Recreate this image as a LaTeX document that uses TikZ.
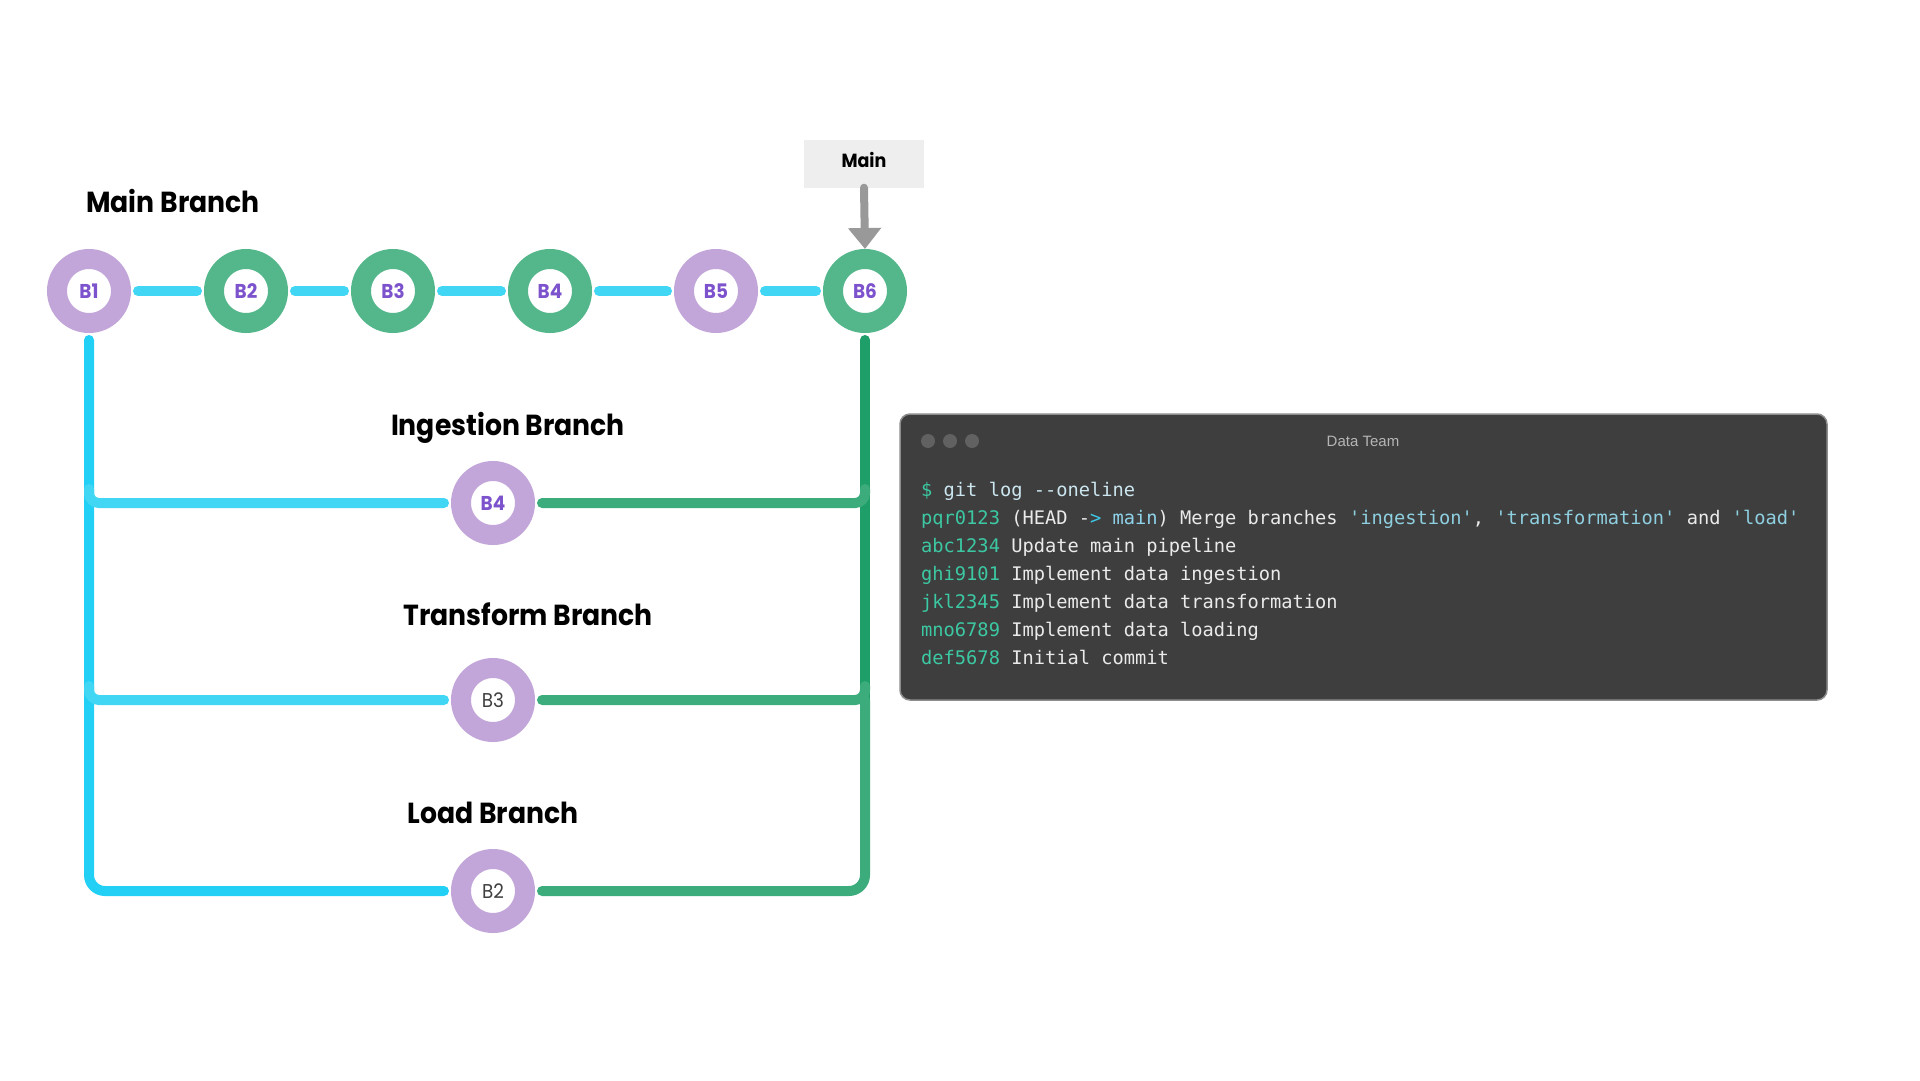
\documentclass[tikz,border=0pt]{standalone}
\usepackage{fontspec}
\setmonofont{DejaVu Sans Mono}
\newfontfamily\geofont[FakeStretch=0.92]{Poppins}
\newfontfamily\uifont{Liberation Sans}
\usetikzlibrary{matrix,positioning,calc,arrows.meta}

\definecolor{ringpurple}{HTML}{C3A6D9}
\definecolor{ringgreen}{HTML}{54B78B}
\definecolor{labelpurple}{HTML}{7C53CC}
\definecolor{trunkcyan}{HTML}{22D0F5}
\definecolor{linecyan}{HTML}{41D7F4}
\definecolor{trunkgreen}{HTML}{1E9E69}
\definecolor{linegreen}{HTML}{3CAC7C}
\definecolor{headgray}{HTML}{999999}
\definecolor{boxgray}{HTML}{EEEEEE}
\definecolor{termbg}{HTML}{3E3E3E}
\definecolor{termrim}{HTML}{8C8C8C}
\definecolor{termdot}{HTML}{616161}
\definecolor{termtitle}{HTML}{B5B5B5}
\definecolor{loghash}{HTML}{3CC8A2}
\definecolor{logtext}{HTML}{EAEAEA}
\definecolor{logcmd}{HTML}{CBE6EF}
\definecolor{logref}{HTML}{8FD3EB}
\definecolor{logstr}{HTML}{8ECFE0}
\definecolor{logarrow}{HTML}{3FC9E8}

\newcommand{\hashc}[1]{\textcolor{loghash}{#1}}
\newcommand{\strc}[1]{\textcolor{logstr}{#1}}

\begin{document}
\begin{tikzpicture}[
    x=1pt, y=-1pt,
    % define styles
    commit/.style={
        circle, minimum size=64pt, inner sep=0pt, outer sep=10pt,
        line width=20pt, fill=white, text=labelpurple,
        font=\geofont\bfseries\fontsize{20}{20}\selectfont
    },
    plaincommit/.style={
        commit, draw=ringpurple, text=black!75,
        font=\geofont\fontsize{20}{20}\selectfont
    },
    branchname/.style={
        anchor=base, inner sep=0pt,
        font=\geofont\bfseries\fontsize{29}{29}\selectfont
    },
    mainline/.style={
        draw=linecyan, line width=10pt, line cap=round,
        shorten <=7pt, shorten >=7pt
    },
    forkline/.style={
        draw=linecyan, line width=10pt, line cap=round, shorten >=7pt
    },
    mergeline/.style={
        draw=linegreen, line width=10pt, line cap=round, shorten <=7pt
    },
    tagbox/.style={
        fill=boxgray, minimum width=120pt, minimum height=48pt,
        text depth=7pt,
        font=\geofont\bfseries\fontsize{19}{19}\selectfont
    },
    termwin/.style={
        draw=termrim, fill=termbg, line width=1.5pt, rounded corners=10pt,
        minimum width=927pt, minimum height=286pt
    },
    logtable/.style={
        matrix of nodes, inner sep=0pt, row sep=10pt,
        nodes={anchor=west, inner sep=0pt, text height=14pt, text depth=4pt,
            text=logtext, font=\ttfamily\fontsize{18.7}{18.7}\selectfont}
    }
]
\fill[white] (0,0) rectangle (1920,1080);
\useasboundingbox (0,0) rectangle (1920,1080);

% main branch commits
\foreach \n/\x/\c in {1/89/ringpurple, 2/246/ringgreen, 3/393/ringgreen,
                      4/550/ringgreen, 5/716/ringpurple, 6/865/ringgreen}
    \node[commit, draw=\c] (B\n) at (\x,291) {B\n};

\foreach \a/\b in {1/2,2/3,3/4,4/5,5/6}
    \draw[mainline] (B\a.east) -- (B\b.west);

\node[branchname] (mainlbl) at (173,212) {Main Branch};

% head pointer
\node[tagbox] (mainbox) at (864,163.5) {Main};
\draw[draw=headgray, line width=8pt, line cap=round,
      -{Triangle[width=32pt,length=21pt]}] (mainbox.south) -- (B6.north);

% feature branches
\node[commit, draw=ringpurple] (ing) at (493,503) {B4};
\node[plaincommit] (trf) at (493,700) {B3};
\node[plaincommit] (lod) at (493,891) {B2};

\node[branchname] (inglbl) at (508,435) {Ingestion Branch};
\node[branchname] (trflbl) at (528,625) {Transform Branch};
\node[branchname] (lodlbl) at (493,823) {Load Branch};

% left trunk and forks
\draw[forkline, draw=trunkcyan, rounded corners=16pt, shorten <=7pt]
    (B1.south) -- (B1 |- lod) -- (lod.west);
\draw[forkline, rounded corners=10pt] ($(B1 |- ing)+(0,-14)$) -- (B1 |- ing) -- (ing.west);
\draw[forkline, rounded corners=10pt] ($(B1 |- trf)+(0,-14)$) -- (B1 |- trf) -- (trf.west);

% right trunk and merges
\draw[draw=trunkgreen, line width=10pt, line cap=round, shorten <=7pt]
    (B6.south) -- (B6 |- trf);
\draw[mergeline, rounded corners=16pt] (lod.east) -- (B6 |- lod) -- (B6 |- trf);
\draw[mergeline, rounded corners=10pt] (ing.east) -- (B6 |- ing) -- ++(0,-14);
\draw[mergeline, rounded corners=10pt] (trf.east) -- (B6 |- trf) -- ++(0,-14);

% terminal window
\node[termwin] (term) at (1363.5,557) {};
\foreach \i/\x in {1/928,2/950,3/972}
    \fill[termdot] (\x,441) circle (7pt) node (dot\i) {};
\node[text=termtitle, font=\uifont\fontsize{15}{15}\selectfont] (ttl) at (1363,441) {Data Team};

\matrix[logtable, anchor=north west] (log) at (921,482.5)
{
\hashc{\$} \textcolor{logcmd}{git log --oneline} \\
\hashc{pqr0123} (HEAD -\textcolor{logarrow}{>} \textcolor{logref}{main}) Merge branches \strc{'ingestion'}, \strc{'transformation'} and \strc{'load'} \\
\hashc{abc1234} Update main pipeline \\
\hashc{ghi9101} Implement data ingestion \\
\hashc{jkl2345} Implement data transformation \\
\hashc{mno6789} Implement data loading \\
\hashc{def5678} Initial commit \\
};
\end{tikzpicture}
\end{document}
